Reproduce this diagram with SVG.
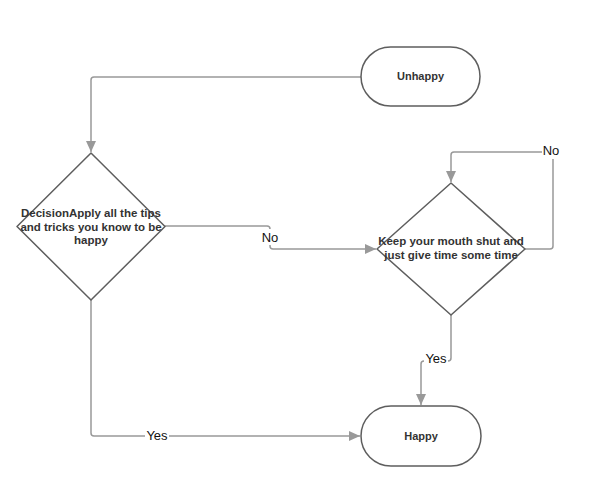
<svg xmlns="http://www.w3.org/2000/svg" width="607" height="489" viewBox="0 0 607 489">
<style>
.node{fill:#fff;stroke:#5e5e5e;stroke-width:1.5}
.nt{font-family:"Liberation Sans",Arial,sans-serif;font-weight:bold;font-size:11px;fill:#333;text-anchor:middle}
.dt{font-size:11.5px}
.edge{fill:none;stroke:#999;stroke-width:1.5}
.lb{font-family:"Liberation Sans",Arial,sans-serif;font-size:13px;fill:#111;text-anchor:middle}
.lbg{fill:#fff}
</style>
<defs>
<marker id="arr" markerWidth="12" markerHeight="10" refX="11" refY="5" orient="auto" markerUnits="userSpaceOnUse">
<path d="M0,0 L11,5 L0,10 Z" fill="#999"/>
</marker>
</defs>
<rect width="607" height="489" fill="#fff"/>
<g id="connectors">
<path class="edge" d="M361,77 H94 Q91,77 91,80 V152" marker-end="url(#arr)"/>
<path class="edge" d="M165,226 H267 Q270,226 270,229 V246 Q270,249 273,249 H376" marker-end="url(#arr)"/>
<path class="edge" d="M91,300 V433 Q91,436 94,436 H360" marker-end="url(#arr)"/>
<path class="edge" d="M525,249 H550 Q553,249 553,246 V155 Q553,152 550,152 H454 Q451,152 451,155 V182" marker-end="url(#arr)"/>
<path class="edge" d="M451,315 V358 Q451,361 448,361 H424 Q421,361 421,364 V405" marker-end="url(#arr)"/>
<rect class="lbg" x="261" y="229" width="19" height="16"/>
<text class="lb" x="270" y="242">No</text>
<rect class="lbg" x="542" y="143" width="19" height="16"/>
<text class="lb" x="551" y="155">No</text>
<rect class="lbg" x="424" y="351" width="24" height="16"/>
<text class="lb" x="436" y="363">Yes</text>
<rect class="lbg" x="145" y="428" width="24" height="16"/>
<text class="lb" x="157" y="440">Yes</text>
</g>
<g id="unhappy">
<rect class="node" x="361" y="47" width="119" height="59" rx="29.5"/>
<text class="nt" x="420.5" y="80">Unhappy</text>
</g>
<g id="happy">
<rect class="node" x="361" y="406" width="120" height="60" rx="30"/>
<text class="nt" x="421" y="440">Happy</text>
</g>
<g id="decision1">
<path class="node" d="M91,153 L165,226.5 L91,300 L17,226.5 Z" stroke-linejoin="round"/>
<text class="nt dt" x="91" y="217">DecisionApply all the tips</text>
<text class="nt dt" x="91" y="231">and tricks you know to be</text>
<text class="nt dt" x="91" y="244">happy</text>
</g>
<g id="decision2">
<path class="node" d="M451,183 L525,249 L451,315 L377,249 Z" stroke-linejoin="round"/>
<text class="nt dt" x="451" y="245">Keep your mouth shut and</text>
<text class="nt dt" x="451" y="259">just give time some time</text>
</g>
</svg>
